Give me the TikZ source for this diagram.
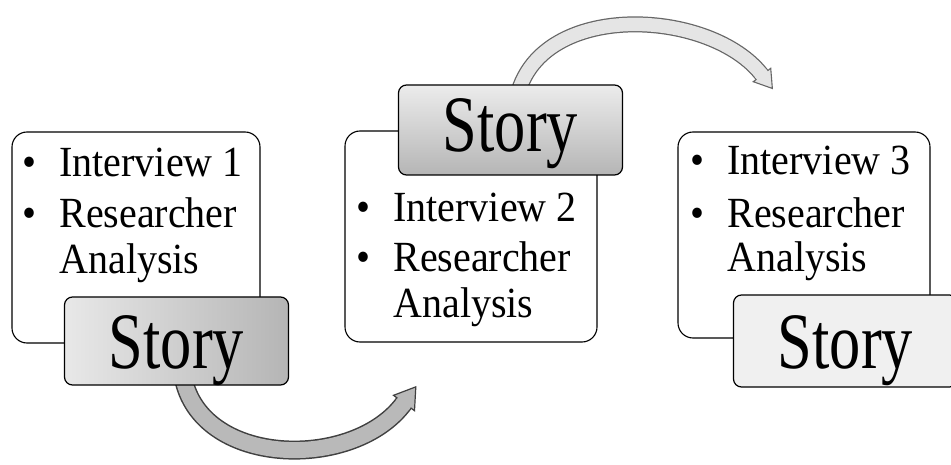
\documentclass[tikz,border=0pt]{standalone}
\usepackage{fontspec}
\setmainfont{Liberation Serif}
\usepackage{graphicx}
\usetikzlibrary{calc}
\newcommand\NarrowA[1]{\scalebox{0.93}[1]{#1}}
\newcommand\NarrowB[1]{\scalebox{0.78}[1]{#1}}
\begin{document}
\begin{tikzpicture}[x=1pt,y=-1pt,
  textbox/.style={draw=black, line width=1.1pt, fill=white, rounded corners=15pt, inner sep=0pt},
  storybox/.style={draw=black, line width=1.2pt, rounded corners=8pt, inner sep=0pt,
     minimum width=224pt, font=\fontsize{80}{80}\selectfont, text height=54pt, text depth=0pt},
  itemline/.style={anchor=base west, inner sep=0pt, font=\fontsize{43}{50}\selectfont},
  bandout/.style={line width=19pt, black!75},
  bandin/.style={line width=16pt, gray!55},
  bandoutB/.style={line width=16pt, black!60},
  bandinB/.style={line width=13.5pt, gray!20}]
\useasboundingbox (0,0) rectangle (951,465);
\fill[white] (0,0) rectangle (951,465);
\clip (0,0) rectangle (951,465);

% text boxes
\node[textbox, minimum width=248pt, minimum height=211pt] (box1) at (136,237.5) {};
\node[textbox, minimum width=252pt, minimum height=211pt] (box2) at (471,236.5) {};
\node[textbox, minimum width=252pt, minimum height=206pt] (box3) at (804,235) {};

% box 1 text
\node[itemline] (t1a) at (22,177) {\NarrowA{\makebox[40pt][l]{\textbullet}Interview 1}};
\node[itemline] (t1b) at (22,228) {\NarrowA{\makebox[40pt][l]{\textbullet}Researcher}};
\node[itemline] (t1c) at (22,273) {\NarrowA{\makebox[40pt][l]{}Analysis}};
% box 2 text
\node[itemline] (t2a) at (356,222) {\NarrowA{\makebox[40pt][l]{\textbullet}Interview 2}};
\node[itemline] (t2b) at (356,272) {\NarrowA{\makebox[40pt][l]{\textbullet}Researcher}};
\node[itemline] (t2c) at (356,317) {\NarrowA{\makebox[40pt][l]{}Analysis}};
% box 3 text
\node[itemline] (t3a) at (690,175) {\NarrowA{\makebox[40pt][l]{\textbullet}Interview 3}};
\node[itemline] (t3b) at (690,228) {\NarrowA{\makebox[40pt][l]{\textbullet}Researcher}};
\node[itemline] (t3c) at (690,272) {\NarrowA{\makebox[40pt][l]{}Analysis}};

% coordinates for arrows
\coordinate (s1) at (184,381);
\coordinate (a1e) at (404,403);
\coordinate (a1c2) at (355,470);
\coordinate (s2) at (519,90);
\coordinate (a2e) at (762,75);
\coordinate (a2c2) at (712,10);

% bottom arrow (story 1 -> box 2)
\draw[bandout] (s1) .. controls (205,468) and (a1c2) .. (a1e);
\draw[bandin] (s1) .. controls (205,468) and (a1c2) .. (a1e);
\filldraw[fill=gray!55, draw=black!75, line width=1.2pt, line join=miter]
  ($(a1e)!13pt!90:(a1c2)$) -- ($(a1e)!-20pt!(a1c2)$) -- ($(a1e)!13pt!-90:(a1c2)$) -- cycle;
\draw[line width=16pt, gray!55] ($(a1e)!3pt!(a1c2)$) -- ($(a1e)!-2pt!(a1c2)$);

% top arrow (story 2 -> box 3)
\draw[bandoutB] (s2) .. controls (548,0) and (a2c2) .. (a2e);
\draw[bandinB] (s2) .. controls (548,0) and (a2c2) .. (a2e);
\filldraw[fill=gray!20, draw=black!60, line width=1.1pt, line join=miter]
  ($(a2e)!11pt!90:(a2c2)$) -- ($(a2e)!-17pt!(a2c2)$) -- ($(a2e)!11pt!-90:(a2c2)$) -- cycle;
\draw[line width=13.5pt, gray!20] ($(a2e)!3pt!(a2c2)$) -- ($(a2e)!-2pt!(a2c2)$);

% story boxes
\node[storybox, minimum height=88pt, left color=gray!18, right color=gray!58] (story1) at (176.5,341) {\NarrowB{Story}};
\node[storybox, minimum height=90pt, top color=gray!15, bottom color=gray!58, text height=44pt] (story2) at (510.5,130) {\NarrowB{Story}};
\node[storybox, minimum height=92pt, fill=gray!12] (story3) at (845.5,341) {\NarrowB{Story}};
\end{tikzpicture}
\end{document}
